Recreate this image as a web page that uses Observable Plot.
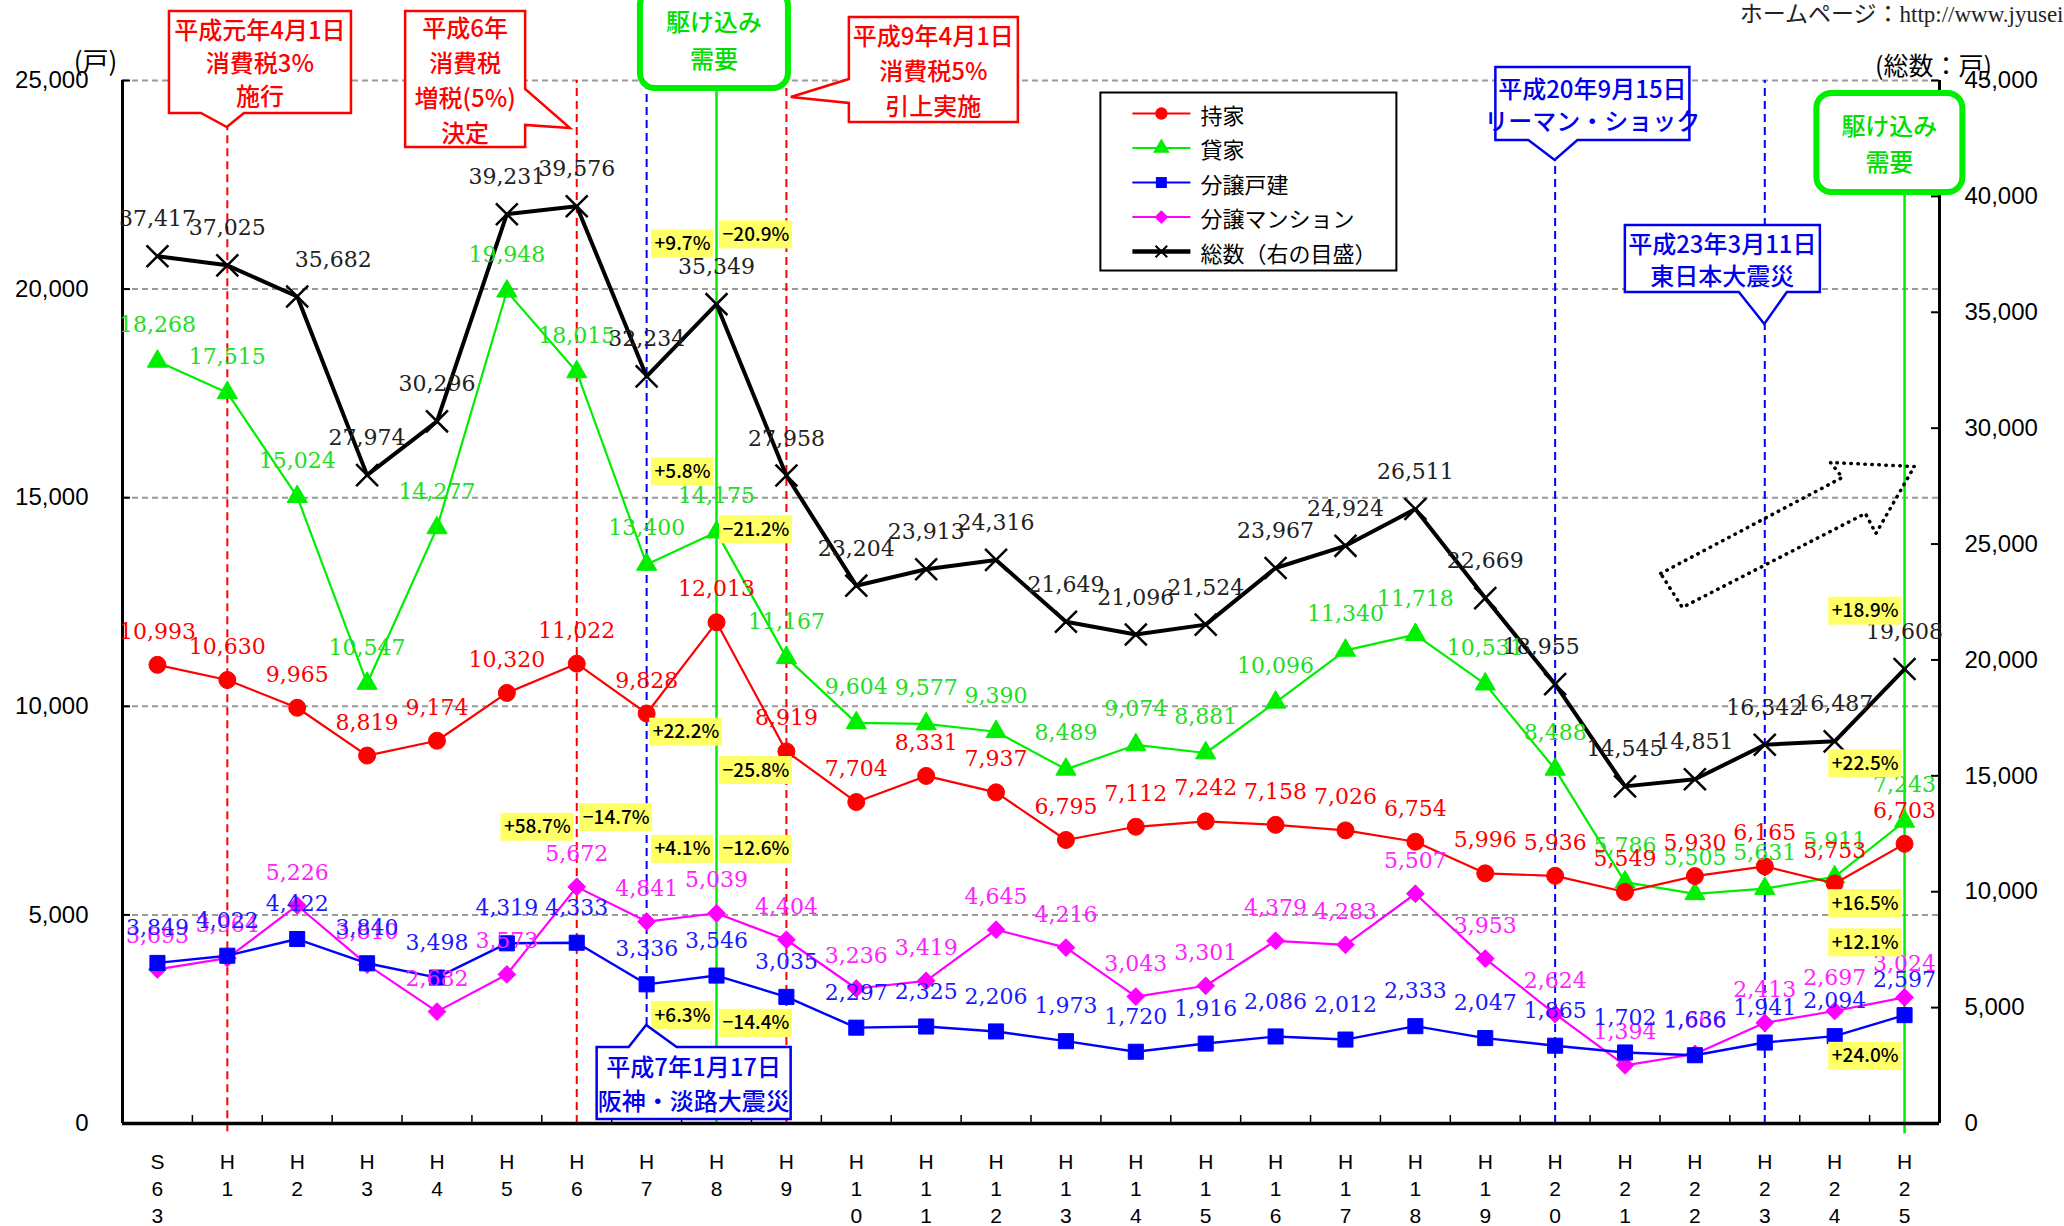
<!DOCTYPE html>
<html><head><meta charset="utf-8">
<script src="https://cdn.jsdelivr.net/npm/d3@7"></script>
<script src="https://cdn.jsdelivr.net/npm/@observablehq/plot@0.6"></script>
<style>
html,body{margin:0;padding:0;background:#fff;overflow:hidden}
#chart svg{display:block}
</style></head>
<body><div id="chart"></div>
<script>
// ---------- data ----------
const categories = ["S63","H1","H2","H3","H4","H5","H6","H7","H8","H9","H10","H11","H12","H13","H14","H15","H16","H17","H18","H19","H20","H21","H22","H23","H24","H25"];
const mochiie      = [10993,10630,9965,8819,9174,10320,11022,9828,12013,8919,7704,8331,7937,6795,7112,7242,7158,7026,6754,5996,5936,5549,5930,6165,5753,6703];
const kashiya      = [18268,17515,15024,10547,14277,19948,18015,13400,14175,11167,9604,9577,9390,8489,9074,8881,10096,11340,11718,10531,8488,5786,5505,5631,5911,7243];
const bunjoKodate  = [3849,4022,4422,3840,3498,4319,4333,3336,3546,3035,2297,2325,2206,1973,1720,1916,2086,2012,2333,2047,1865,1702,1636,1941,2094,2597];
const bunjoMansion = [3693,3964,5226,3810,2682,3573,5672,4841,5039,4404,3236,3419,4645,4216,3043,3301,4379,4283,5507,3953,2624,1394,1666,2413,2697,3024];
const total        = [37417,37025,35682,27974,30296,39231,39576,32234,35349,27958,23204,23913,24316,21649,21096,21524,23967,24924,26511,22669,18955,14545,14851,16342,16487,19608];
const leftTicks  = [0,5000,10000,15000,20000,25000];
const rightTicks = [0,5000,10000,15000,20000,25000,30000,35000,40000,45000];
const totalLabelShift = {2: 36, 20: -14};

const pctLabels = [
  {i:8,  v:21080, t:"+9.7%",  side:"L"},
  {i:8,  v:21300, t:"−20.9%", side:"R"},
  {i:8,  v:15620, t:"+5.8%",  side:"L"},
  {i:8,  v:14230, t:"−21.2%", side:"R"},
  {i:7,  v:9380,  t:"+22.2%", side:"R"},
  {i:8,  v:8460,  t:"−25.8%", side:"R"},
  {i:6,  v:7100,  t:"+58.7%", side:"L"},
  {i:6,  v:7330,  t:"−14.7%", side:"R"},
  {i:8,  v:6570,  t:"+4.1%",  side:"L"},
  {i:8,  v:6570,  t:"−12.6%", side:"R"},
  {i:8,  v:2590,  t:"+6.3%",  side:"L"},
  {i:8,  v:2400,  t:"−14.4%", side:"R"},
  {i:25, v:12280, t:"+18.9%", side:"L"},
  {i:25, v:8620,  t:"+22.5%", side:"L"},
  {i:25, v:5270,  t:"+16.5%", side:"L"},
  {i:25, v:4330,  t:"+12.1%", side:"L"},
  {i:25, v:1610,  t:"+24.0%", side:"L"}
];

const eventLines = [
  {i:1,  y1:-200, y2:23874, color:"#ff0000", dash:"8,5"},
  {i:6,  y1:0,    y2:25000, color:"#ff0000", dash:"8,5"},
  {i:7,  y1:2349, y2:25000, color:"#0000ff", dash:"8,5"},
  {i:8,  y1:0,    y2:24800, color:"#00ee00", dash:null},
  {i:9,  y1:0,    y2:25000, color:"#ff0000", dash:"8,5"},
  {i:20, y1:0,    y2:23083, color:"#0000ff", dash:"8,5"},
  {i:23, y1:0,    y2:25000, color:"#0000ff", dash:"8,5"},
  {i:25, y1:-250, y2:22400, color:"#00ee00", dash:null}
];

const callouts = [
  {lines:["平成元年4月1日","消費税3%","施行"], color:"#ff0000", cx:1.474, cy:25432, w:182, h:102, side:"bottom", b0:-59, b1:-16, tipX:1, tipY:23874, lh:33},
  {lines:["平成6年","消費税","増税(5%)","決定"], color:"#ff0000", cx:4.41, cy:25025, w:120, h:136, side:"right", b0:10, b1:46, tipX:5.91, tipY:23850, lh:35},
  {lines:["平成9年4月1日","消費税5%","引上実施"], color:"#ff0000", cx:11.11, cy:25252, w:169, h:105, side:"left", b0:9.5, b1:33.5, tipX:9.07, tipY:24593, lh:35},
  {lines:["平成7年1月17日","阪神・淡路大震災"], color:"#0000ee", cx:7.68, cy:959, w:194, h:72, side:"top", b0:-65, b1:-17, tipX:7, tipY:2349, lh:34},
  {lines:["平成20年9月15日","リーマン・ショック"], color:"#0000ee", cx:20.54, cy:24436, w:194, h:73, side:"bottom", b0:-64, b1:-15, tipX:20, tipY:23083, lh:32},
  {lines:["平成23年3月11日","東日本大震災"], color:"#0000ee", cx:22.40, cy:20722, w:195, h:67, side:"bottom", b0:16.5, b1:64.5, tipX:23, tipY:19152, lh:32},
  {lines:["駆け込み","需要"], color:"#00dd00", stroke:"#00ee00", cx:7.97, cy:25983, w:148, h:98, rounded:true, lh:37},
  {lines:["駆け込み","需要"], color:"#00dd00", stroke:"#00ee00", cx:24.79, cy:23502, w:146, h:99, rounded:true, lh:36}
];

const arrowOutline = [
  {x:21.51, y:13184},{x:24.11, y:15485},{x:23.94, y:15844},{x:25.14, y:15748},
  {x:24.59, y:14142},{x:24.44, y:14622},{x:21.82, y:12369},{x:21.51, y:13184}
];

const legendItems = [
  {label:"持家", color:"#ff0000", symbol:"circle"},
  {label:"貸家", color:"#00ee00", symbol:"triangle"},
  {label:"分譲戸建", color:"#0000ff", symbol:"square"},
  {label:"分譲マンション", color:"#ff00ff", symbol:"diamond"},
  {label:"総数（右の目盛）", color:"#000000", symbol:"times"}
];

// ---------- layout ----------
const W = 2064, H = 1226;
const M = {top: 80, right: 125, bottom: 103, left: 122};
const K = 25000 / 45000;                       // right-axis to left-axis factor
const pxPerY = (H - M.top - M.bottom) / 25000;
const pxPerX = (W - M.left - M.right) / 26;
const fmt = d3.format(",");
const JP = "'Noto Sans CJK JP', sans-serif";
const SERIF = "'DejaVu Serif', 'Liberation Serif', serif";
const AXISF = "'Liberation Sans', Arial, sans-serif";

const rows = (arr, scale = 1, shift = {}) => arr.map((v, i) => ({i, v, y: v * scale, s: shift[i] || 0}));

function series(arr, o) {
  const data = rows(arr, o.scale || 1, o.shift || {});
  const marks = [
    Plot.line(data, {x: "i", y: "y", stroke: o.color, strokeWidth: o.lw}),
    o.symbol === "times"
      ? Plot.dot(data, {x: "i", y: "y", symbol: "times", r: o.r, stroke: o.color, strokeWidth: 2.5})
      : Plot.dot(data, {x: "i", y: "y", symbol: o.symbol, r: o.r, fill: o.color, stroke: o.color, strokeWidth: 1}),
  ];
  const labels = Plot.text(data, {x: d => d.i + d.s / pxPerX, y: "y", text: d => fmt(d.v), dy: o.dy,
    fill: o.text, fontSize: 22, fontFamily: SERIF});
  return {marks, labels};
}

const sRed = series(mochiie, {color:"#ff0000", symbol:"circle", r:8.5, lw:2.2, dy:-33, text:"#ff0000"});
const sGreen = series(kashiya, {color:"#00ee00", symbol:"triangle", r:7.5, lw:2.2, dy:-36, text:"#22dd22"});
const sBlue = series(bunjoKodate, {color:"#0000ff", symbol:"square", r:8.5, lw:2.4, dy:-35, text:"#1a1aff"});
const sMag = series(bunjoMansion, {color:"#ff00ff", symbol:"diamond2", r:8, lw:2.2, dy:-33, text:"#ff22ff"});
const sTot = series(total, {color:"#000000", symbol:"times", r:10, lw:4, dy:-37, text:"#222222", scale:K, shift: totalLabelShift});

// percent labels with yellow background
const ctx = document.createElement("canvas").getContext("2d");
ctx.font = `500 19px ${JP}`;
const pctMarks = pctLabels.flatMap(d => {
  const w = ctx.measureText(d.t).width + 6;
  const left = d.side === "L";
  return [
    Plot.rect([d], {x1: "i", x2: "i", y1: "v", y2: "v", fill: "#ffff66",
      insetLeft: left ? -(w + 3) : 3, insetRight: left ? 3 : -(w + 3), insetTop: -14, insetBottom: -14}),
    Plot.text([d], {x: "i", y: "v", text: "t", textAnchor: left ? "end" : "start", dx: left ? -6 : 6,
      fill: "#000", fontSize: 19, fontWeight: 500, fontFamily: JP})
  ];
});

// callouts and legend drawn through the plot's scales
function annotationLayer(index, scales, values, dimensions) {
  const sx = typeof scales.x === "function" ? scales.x : d3.scaleLinear([-0.5, 25.5], [M.left, W - M.right]);
  const sy = typeof scales.y === "function" ? scales.y : d3.scaleLinear([0, 25000], [H - M.bottom, M.top]);
  const g = d3.create("svg:g");
  for (const c of callouts) {
    const cx = sx(c.cx), cy = sy(c.cy);
    const L = cx - c.w / 2, R = cx + c.w / 2, T = cy - c.h / 2, B = cy + c.h / 2;
    if (c.rounded) {
      g.append("rect").attr("x", L).attr("y", T).attr("width", c.w).attr("height", c.h)
        .attr("rx", 15).attr("fill", "#fff").attr("stroke", c.stroke).attr("stroke-width", 6);
    } else {
      const tx = sx(c.tipX), ty = sy(c.tipY);
      let pts;
      if (c.side === "bottom") pts = [[L,T],[R,T],[R,B],[cx+c.b1,B],[tx,ty],[cx+c.b0,B],[L,B]];
      else if (c.side === "top") pts = [[L,T],[cx+c.b0,T],[tx,ty],[cx+c.b1,T],[R,T],[R,B],[L,B]];
      else if (c.side === "right") pts = [[L,T],[R,T],[R,cy+c.b0],[tx,ty],[R,cy+c.b1],[R,B],[L,B]];
      else pts = [[L,T],[R,T],[R,B],[L,B],[L,cy+c.b1],[tx,ty],[L,cy+c.b0]];
      g.append("path").attr("d", "M" + pts.map(p => p.join(",")).join("L") + "Z")
        .attr("fill", "#fff").attr("stroke", c.color).attr("stroke-width", 2.5).attr("stroke-linejoin", "miter");
    }
    const n = c.lines.length;
    c.lines.forEach((t, k) => {
      g.append("text").attr("x", cx).attr("y", cy + (k - (n - 1) / 2) * c.lh)
        .attr("text-anchor", "middle").attr("dominant-baseline", "central")
        .attr("fill", c.color).attr("font-family", JP).attr("font-size", 24).attr("font-weight", 500)
        .text(t);
    });
  }
  // legend box
  const lx = sx(13.5), ly = sy(24700);
  const lg = g.append("g").attr("transform", `translate(${lx},${ly})`);
  lg.append("rect").attr("x", 0).attr("y", 0).attr("width", 296).attr("height", 178)
    .attr("fill", "#fff").attr("stroke", "#000").attr("stroke-width", 2);
  const symMap = {circle: d3.symbolCircle, triangle: d3.symbolTriangle, square: d3.symbolSquare, diamond: d3.symbolDiamond2, times: d3.symbolTimes};
  legendItems.forEach((it, k) => {
    const yy = 21 + k * 34.5;
    lg.append("line").attr("x1", 32).attr("x2", 90).attr("y1", yy).attr("y2", yy)
      .attr("stroke", it.color).attr("stroke-width", it.symbol === "times" ? 4.5 : 2);
    const sym = lg.append("path").attr("transform", `translate(61,${yy})`)
      .attr("d", d3.symbol(symMap[it.symbol], it.symbol === "times" ? 90 : 120)());
    if (it.symbol === "times") sym.attr("fill", "none").attr("stroke", "#000").attr("stroke-width", 2);
    else sym.attr("fill", it.color);
    lg.append("text").attr("x", 100).attr("y", yy).attr("dominant-baseline", "central")
      .attr("text-anchor", "start")
      .attr("font-family", JP).attr("font-size", 22).attr("fill", "#000").text(it.label);
  });
  return g.node();
}

const plot = Plot.plot({
  width: W, height: H,
  marginTop: M.top, marginRight: M.right, marginBottom: M.bottom, marginLeft: M.left,
  style: {background: "#fff", fontFamily: JP, overflow: "visible"},
  x: {type: "linear", domain: [-0.5, 25.5], label: null},
  y: {type: "linear", domain: [0, 25000], label: null},
  marks: [
    // gridlines
    Plot.ruleY(leftTicks.slice(1), {stroke: "#999", strokeWidth: 2, strokeDasharray: "6,4"}),
    // event lines
    Plot.ruleX(eventLines.filter(d => d.dash), {x: "i", y1: "y1", y2: "y2", stroke: "color", strokeWidth: 2, strokeDasharray: "8,5"}),
    Plot.ruleX(eventLines.filter(d => !d.dash), {x: "i", y1: "y1", y2: "y2", stroke: "color", strokeWidth: 2.5}),
    // frame lines
    Plot.ruleX([-0.5, 25.5], {y1: 0, y2: 25000, stroke: "#000", strokeWidth: 3}),
    Plot.ruleY([0], {x1: -0.5, x2: 25.5, stroke: "#000", strokeWidth: 3.5}),
    // inner ticks
    Plot.ruleX(d3.range(25).map(i => i + 0.5), {y1: 0, y2: 8 / pxPerY, stroke: "#000", strokeWidth: 1.5}),
    Plot.ruleY(leftTicks.slice(1), {x1: -0.5, x2: -0.5 + 8 / pxPerX, stroke: "#000", strokeWidth: 2}),
    Plot.ruleY(rightTicks.slice(1).map(v => v * K), {x1: 25.5 - 8 / pxPerX, x2: 25.5, stroke: "#000", strokeWidth: 2}),
    // axes
    Plot.axisX({ticks: d3.range(26), tickFormat: i => categories[i].split("").join("\n"), tickSize: 0, tickPadding: 26,
      fontSize: 21, lineHeight: 1.3, fontFamily: AXISF, label: null}),
    Plot.axisY({anchor: "left", ticks: leftTicks, tickFormat: d => fmt(d), tickSize: 0, tickPadding: 34,
      fontSize: 24, fontFamily: AXISF, label: null}),
    Plot.axisY({anchor: "right", ticks: rightTicks.map(v => v * K), tickFormat: d => fmt(Math.round(d / K)), tickSize: 0, tickPadding: 25,
      fontSize: 24, fontFamily: AXISF, label: null}),
    // dotted arrow
    Plot.line(arrowOutline, {x: "x", y: "y", stroke: "#000", strokeWidth: 3.5, strokeDasharray: "0.5,6.5", strokeLinecap: "round"}),
    // series
    ...sGreen.marks, ...sRed.marks, ...sMag.marks, ...sBlue.marks, ...sTot.marks,
    sGreen.labels, sRed.labels, sMag.labels, sBlue.labels, sTot.labels,
    ...pctMarks,
    annotationLayer,
    // unit labels and header
    Plot.text(["(戸)"], {text: d => d, frameAnchor: "top-left", dx: -27, dy: -18, textAnchor: "middle", lineAnchor: "middle",
      fontSize: 26, fontFamily: JP, fill: "#000"}),
    Plot.text(["(総数：戸)"], {text: d => d, frameAnchor: "top-right", dx: -6, dy: -14, textAnchor: "middle", lineAnchor: "middle",
      fontSize: 25, fontFamily: JP, fill: "#000"}),
    Plot.text(["ホームページ：http://www.jyusei"], {text: d => d, frameAnchor: "top-right", dx: 124, dy: -66, textAnchor: "end", lineAnchor: "middle",
      fontSize: 23, fontFamily: "'Liberation Serif', 'Noto Sans CJK JP', serif", fill: "#222"})
  ]
});
document.getElementById("chart").appendChild(plot);
</script>
</body></html>
